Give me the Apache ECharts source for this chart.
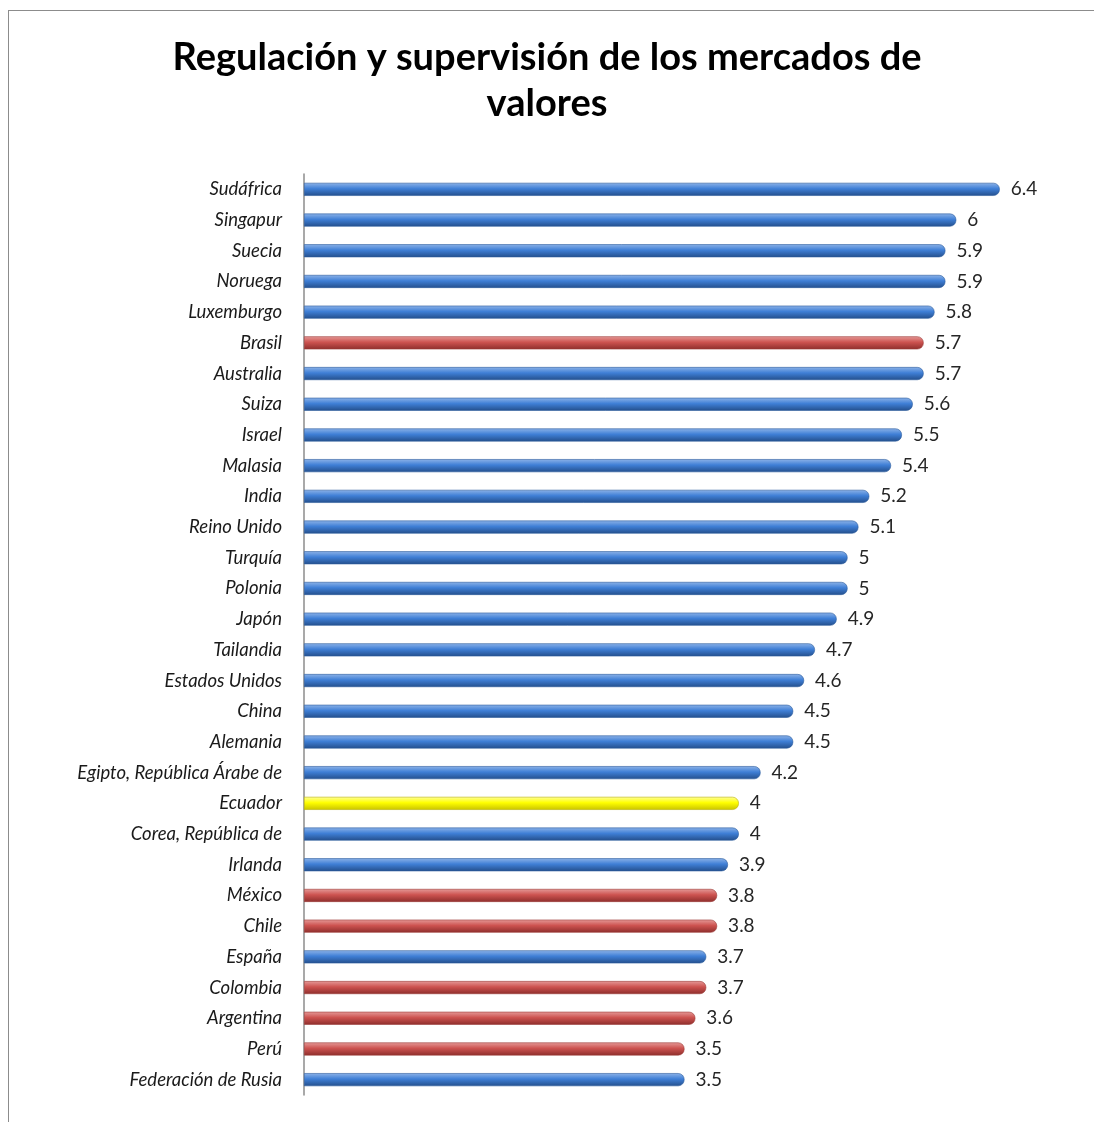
<!DOCTYPE html>
<html>
<head>
<meta charset="utf-8">
<script src="https://cdn.jsdelivr.net/npm/echarts@6/dist/echarts.min.js"></script>
<style>
html,body{margin:0;padding:0;background:#fff;}
#frame{position:absolute;left:8px;top:10px;width:1200px;height:1200px;border:1.5px solid #8c8c8c;box-sizing:border-box;}
#chart{position:absolute;left:0;top:0;width:1094px;height:1122px;}
</style>
</head>
<body>
<div id="frame"></div>
<div id="chart"></div>
<script>
const titleText = 'Regulación y supervisión de los mercados de\nvalores';
const categories = ['Sudáfrica','Singapur','Suecia','Noruega','Luxemburgo','Brasil','Australia','Suiza','Israel','Malasia','India','Reino Unido','Turquía','Polonia','Japón','Tailandia','Estados Unidos','China','Alemania','Egipto, República Árabe de','Ecuador','Corea, República de','Irlanda','México','Chile','España','Colombia','Argentina','Perú','Federación de Rusia'];
const values = [6.4,6,5.9,5.9,5.8,5.7,5.7,5.6,5.5,5.4,5.2,5.1,5,5,4.9,4.7,4.6,4.5,4.5,4.2,4,4,3.9,3.8,3.8,3.7,3.7,3.6,3.5,3.5];
const groups = ['o','o','o','o','o','l','o','o','o','o','o','o','o','o','o','o','o','o','o','o','e','o','o','l','l','o','l','l','l','o'];

function grad(top, mid, bot){
  return new echarts.graphic.LinearGradient(0,0,0,1,[
    {offset:0,color:top},{offset:0.45,color:mid},{offset:1,color:bot}]);
}
const styles = {
  o: {color: grad('#8db3e8','#3f7fd6','#244f8c'), borderColor:'#2a5a9c'},
  l: {color: grad('#e59a98','#cd5350','#8e2e2c'), borderColor:'#9c3a37'},
  e: {color: grad('#ffff9a','#ffff00','#c9c300'), borderColor:'#b8b000'}
};

const chart = echarts.init(document.getElementById('chart'));
chart.setOption({
  animation:false,
  title:{text:titleText,left:'center',top:30,textStyle:{fontFamily:'Lato',fontWeight:'bold',fontSize:38,color:'#000',lineHeight:46}},
  grid:{left:304,right:29,top:174,bottom:27,containLabel:false},
  xAxis:{type:'value',min:0,max:7,show:false,splitLine:{show:false}},
  yAxis:{type:'category',inverse:true,data:categories,
    axisLine:{show:true,lineStyle:{color:'#8c8c8c',width:1.5}},
    axisTick:{show:false},
    axisLabel:{fontFamily:'Lato',fontStyle:'italic',fontSize:18.5,color:'#1a1a1a',margin:22}},
  series:[{type:'bar',barWidth:13,
    data: values.map((v,i)=>({value:v,itemStyle:{color:styles[groups[i]].color,borderColor:styles[groups[i]].borderColor,borderWidth:0.6,borderRadius:[0,6,6,0]}})),
    label:{show:true,position:'right',distance:11,fontFamily:'Lato',fontSize:19,color:'#262626'}
  }]
});
</script>
</body>
</html>
